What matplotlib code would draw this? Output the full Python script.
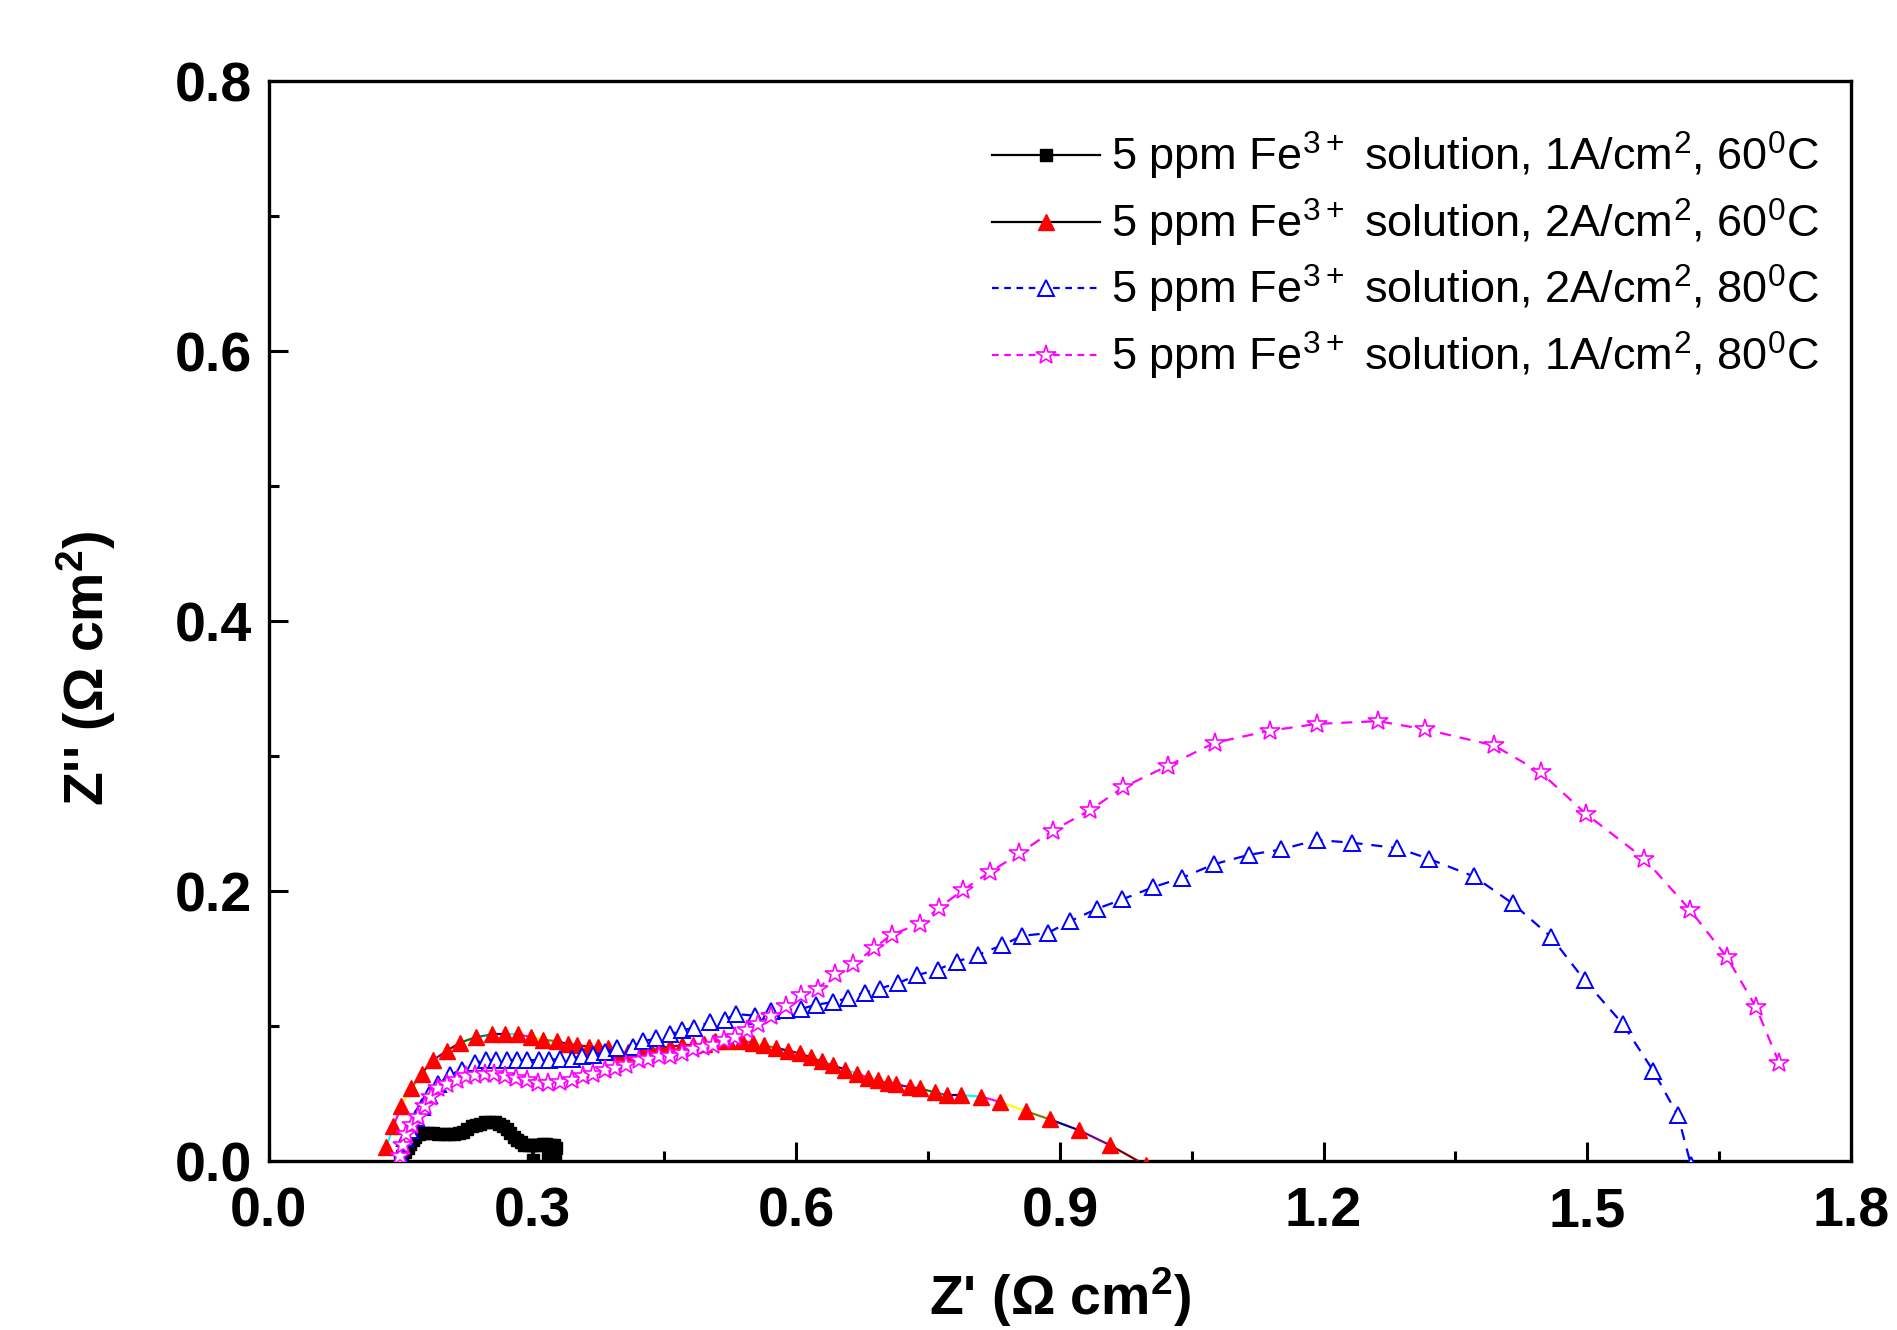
import matplotlib
matplotlib.use("Agg")
import matplotlib.pyplot as plt
from matplotlib.lines import Line2D
from matplotlib.ticker import MultipleLocator

plt.rcParams["font.family"] = ["Liberation Sans", "DejaVu Sans"]
plt.rcParams["mathtext.fontset"] = "custom"
plt.rcParams["mathtext.rm"] = "Liberation Sans"
plt.rcParams["mathtext.bf"] = "Liberation Sans:bold"
plt.rcParams["mathtext.default"] = "regular"

# --- données (Z' , Z'') ---
z1_re = [0.150, 0.152, 0.155, 0.158, 0.161, 0.164, 0.167, 0.171, 0.176, 0.181,
         0.187, 0.193, 0.199, 0.205, 0.211, 0.216, 0.221, 0.226, 0.231, 0.236,
         0.241, 0.246, 0.252, 0.257, 0.262, 0.267, 0.271, 0.275, 0.279, 0.283,
         0.287, 0.291, 0.296, 0.300, 0.301, 0.303, 0.308, 0.312, 0.316, 0.318,
         0.320, 0.323, 0.325, 0.327, 0.326]
z1_im = [0.000, 0.004, 0.007, 0.010, 0.013, 0.016, 0.018, 0.020, 0.021, 0.021,
         0.021, 0.020, 0.020, 0.020, 0.020, 0.021, 0.022, 0.024, 0.026, 0.027,
         0.028, 0.029, 0.029, 0.029, 0.028, 0.026, 0.024, 0.021, 0.018, 0.016,
         0.014, 0.012, 0.012, 0.012, 0.001, 0.012, 0.012, 0.013, 0.013, 0.003,
         0.012, 0.004, 0.012, 0.010, 0.005]

z2_re = [0.134, 0.142, 0.151, 0.162, 0.174, 0.187, 0.203, 0.218, 0.236, 0.254,
         0.269, 0.284, 0.299, 0.312, 0.328, 0.340, 0.351, 0.364, 0.375, 0.386,
         0.396, 0.409, 0.422, 0.434, 0.445, 0.457, 0.470, 0.483, 0.495, 0.508,
         0.523, 0.538, 0.551, 0.563, 0.577, 0.591, 0.604, 0.617, 0.629, 0.642,
         0.656, 0.669, 0.682, 0.693, 0.704, 0.714, 0.729, 0.741, 0.758, 0.772,
         0.788, 0.810, 0.832, 0.862, 0.889, 0.922, 0.957, 0.998]
z2_im = [0.011, 0.026, 0.041, 0.054, 0.065, 0.075, 0.082, 0.088, 0.092, 0.094,
         0.094, 0.094, 0.092, 0.090, 0.089, 0.087, 0.086, 0.085, 0.085, 0.084,
         0.081, 0.081, 0.082, 0.083, 0.084, 0.085, 0.086, 0.086, 0.087, 0.089,
         0.089, 0.089, 0.088, 0.086, 0.084, 0.082, 0.080, 0.077, 0.074, 0.071,
         0.068, 0.065, 0.062, 0.060, 0.058, 0.057, 0.055, 0.054, 0.051, 0.049,
         0.049, 0.048, 0.044, 0.037, 0.031, 0.023, 0.012, -0.003]

z3_re = [0.151, 0.155, 0.161, 0.168, 0.174, 0.182, 0.193, 0.206, 0.220, 0.235,
         0.247, 0.259, 0.271, 0.282, 0.294, 0.307, 0.319, 0.331, 0.345, 0.356,
         0.369, 0.383, 0.396, 0.414, 0.426, 0.441, 0.456, 0.470, 0.484, 0.502,
         0.519, 0.532, 0.553, 0.572, 0.589, 0.606, 0.623, 0.642, 0.659, 0.678,
         0.695, 0.716, 0.738, 0.761, 0.783, 0.807, 0.834, 0.857, 0.886, 0.912,
         0.942, 0.971, 1.006, 1.039, 1.075, 1.115, 1.152, 1.192, 1.232, 1.284,
         1.320, 1.371, 1.415, 1.459, 1.497, 1.540, 1.575, 1.603, 1.618]
z3_im = [0.003, 0.017, 0.023, 0.032, 0.040, 0.049, 0.057, 0.064, 0.068, 0.073,
         0.075, 0.075, 0.075, 0.075, 0.075, 0.075, 0.075, 0.076, 0.076, 0.078,
         0.079, 0.081, 0.084, 0.085, 0.089, 0.091, 0.094, 0.097, 0.099, 0.103,
         0.105, 0.109, 0.108, 0.111, 0.112, 0.113, 0.116, 0.118, 0.121, 0.125,
         0.128, 0.132, 0.138, 0.142, 0.148, 0.153, 0.160, 0.167, 0.169, 0.178,
         0.187, 0.194, 0.203, 0.210, 0.220, 0.227, 0.231, 0.238, 0.236, 0.232,
         0.224, 0.211, 0.191, 0.166, 0.134, 0.102, 0.067, 0.034, -0.003]

z4_re = [0.149, 0.153, 0.156, 0.163, 0.170, 0.178, 0.185, 0.193, 0.203, 0.214,
         0.224, 0.235, 0.246, 0.256, 0.269, 0.281, 0.294, 0.306, 0.318, 0.331,
         0.345, 0.358, 0.369, 0.383, 0.394, 0.407, 0.421, 0.432, 0.444, 0.457,
         0.470, 0.483, 0.494, 0.506, 0.518, 0.530, 0.544, 0.557, 0.572, 0.589,
         0.606, 0.625, 0.644, 0.665, 0.689, 0.709, 0.741, 0.763, 0.790, 0.820,
         0.854, 0.892, 0.934, 0.972, 1.023, 1.076, 1.139, 1.193, 1.262, 1.315,
         1.394, 1.447, 1.499, 1.565, 1.617, 1.659, 1.692, 1.718]
z4_im = [0.004, 0.012, 0.020, 0.027, 0.033, 0.041, 0.048, 0.054, 0.057, 0.060,
         0.063, 0.064, 0.065, 0.065, 0.063, 0.062, 0.060, 0.058, 0.058, 0.059,
         0.060, 0.063, 0.065, 0.068, 0.069, 0.071, 0.075, 0.076, 0.078, 0.078,
         0.080, 0.083, 0.085, 0.086, 0.090, 0.092, 0.097, 0.102, 0.108, 0.115,
         0.123, 0.128, 0.139, 0.146, 0.158, 0.168, 0.176, 0.188, 0.201, 0.214,
         0.228, 0.245, 0.260, 0.277, 0.293, 0.310, 0.319, 0.324, 0.326, 0.320,
         0.308, 0.288, 0.257, 0.224, 0.186, 0.151, 0.114, 0.073]

labels = [
    "5 ppm Fe$^{3+}$ solution, 1A/cm$^2$, 60$^0$C",
    "5 ppm Fe$^{3+}$ solution, 2A/cm$^2$, 60$^0$C",
    "5 ppm Fe$^{3+}$ solution, 2A/cm$^2$, 80$^0$C",
    "5 ppm Fe$^{3+}$ solution, 1A/cm$^2$, 80$^0$C",
]

# couleurs des segments (artefact Origin sur la courbe rouge)
seg_colors = ["#00FFFF", "#FF00FF", "#FFFF00", "#808000", "#000080",
              "#800080", "#800000", "#008000", "#008080", "#0000A0"]

fig = plt.figure(figsize=(18.97, 13.30), dpi=100)
ax = fig.add_axes([0.1416, 0.1268, 0.8342, 0.8122])

ax.plot(z1_re, z1_im, color="k", lw=1.5, marker="s", ms=8, mfc="k", mec="k", zorder=2)

for i in range(len(z2_re) - 1):
    ax.plot(z2_re[i:i + 2], z2_im[i:i + 2], color=seg_colors[i % len(seg_colors)],
            lw=1.6, zorder=3)
ax.plot(z2_re, z2_im, ls="none", marker="^", ms=11, mfc="red", mec="red", zorder=4)

ax.plot(z3_re, z3_im, color="blue", lw=1.6, ls=(0, (5, 4)), marker="^", ms=12,
        mfc="white", mec="blue", mew=1.4, zorder=5)
ax.plot(z4_re, z4_im, color="magenta", lw=1.6, ls=(0, (5, 4)), marker="*", ms=15,
        mfc="white", mec="magenta", mew=1.2, zorder=6)

handles = [
    Line2D([], [], color="k", lw=1.6, marker="s", ms=9, mfc="k", mec="k"),
    Line2D([], [], color="k", lw=1.6, marker="^", ms=12, mfc="red", mec="red"),
    Line2D([], [], color="blue", lw=1.6, ls=(0, (3, 2.5)), marker="^", ms=12,
           mfc="white", mec="blue", mew=1.4),
    Line2D([], [], color="magenta", lw=1.6, ls=(0, (3, 2.5)), marker="*", ms=15,
           mfc="white", mec="magenta", mew=1.2),
]
ax.legend(handles, labels, loc="upper right", bbox_to_anchor=(1.0, 0.984),
          frameon=False, fontsize=32.5, handlelength=2.4, handletextpad=0.25,
          labelspacing=0.32, borderaxespad=0.3)

ax.set_xlim(0.0, 1.8)
ax.set_ylim(0.0, 0.8)
ax.xaxis.set_major_locator(MultipleLocator(0.3))
ax.xaxis.set_minor_locator(MultipleLocator(0.15))
ax.yaxis.set_major_locator(MultipleLocator(0.2))
ax.yaxis.set_minor_locator(MultipleLocator(0.1))
ax.xaxis.set_major_formatter(plt.FormatStrFormatter("%.1f"))
ax.yaxis.set_major_formatter(plt.FormatStrFormatter("%.1f"))

ax.tick_params(which="both", direction="in", top=False, right=False, width=2.2)
ax.tick_params(which="major", length=14)
ax.tick_params(which="minor", length=7)
ax.tick_params(axis="x", which="major", pad=18)
ax.tick_params(axis="y", which="major", pad=12)
for lab in ax.get_xticklabels() + ax.get_yticklabels():
    lab.set_fontsize(40)
    lab.set_fontweight("bold")
for sp in ax.spines.values():
    sp.set_linewidth(2.4)

ax.set_xlabel("Z' (Ω cm$^2$)", fontsize=40, fontweight="bold", va="center")
ax.set_ylabel("Z'' (Ω cm$^2$)", fontsize=40, fontweight="bold", va="center")
ax.xaxis.set_label_coords(0.5, -0.126)
ax.yaxis.set_label_coords(-0.115, 0.457)

fig.savefig("out.png", dpi=100)
